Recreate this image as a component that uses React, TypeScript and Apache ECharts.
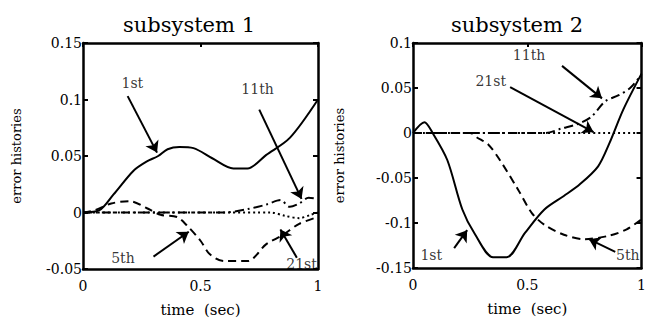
import React, { useEffect, useRef } from "react";
import * as echarts from "echarts";

const FONT = "DejaVu Serif";

// subsystem 1
const s1T1 = [0, 0.07, 0.13, 0.215, 0.27, 0.32, 0.36, 0.41, 0.47, 0.55, 0.64, 0.7, 0.78, 0.88, 1];
const s1V1 = [0, 0.002, 0.016, 0.037, 0.045, 0.05, 0.056, 0.058, 0.057, 0.048, 0.039, 0.039, 0.051, 0.066, 0.1];
const s1T5 = [0, 0.05, 0.12, 0.2, 0.27, 0.33, 0.4, 0.44, 0.5, 0.54, 0.6, 0.7, 0.78, 0.85, 0.92, 1];
const s1V5 = [0, 0.002, 0.008, 0.01, 0.004, -0.002, -0.004, -0.011, -0.025, -0.037, -0.043, -0.043, -0.028, -0.02, -0.01, -0.004];
const s1T11 = [0, 0.6, 0.7, 0.78, 0.84, 0.88, 0.92, 0.96, 1];
const s1V11 = [0, 0, 0.003, 0.007, 0.011, 0.005, 0.008, 0.013, 0.012];
const s1T21 = [0, 0.8, 0.86, 0.92, 0.97, 1];
const s1V21 = [0, 0, -0.003, -0.005, -0.002, 0];

// subsystem 2
const s2T1 = [0, 0.05, 0.086, 0.15, 0.216, 0.27, 0.35, 0.41, 0.49, 0.575, 0.66, 0.73, 0.81, 0.86, 0.92, 1];
const s2V1 = [0, 0.012, 0, -0.03, -0.085, -0.112, -0.138, -0.138, -0.111, -0.085, -0.07, -0.057, -0.037, -0.011, 0.026, 0.066];
const s2T5 = [0, 0.25, 0.28, 0.33, 0.38, 0.46, 0.52, 0.575, 0.66, 0.75, 0.86, 0.935, 1];
const s2V5 = [0, 0, -0.005, -0.013, -0.03, -0.063, -0.089, -0.102, -0.113, -0.118, -0.114, -0.107, -0.096];
const s2T11 = [0, 0.58, 0.65, 0.72, 0.78, 0.84, 0.9, 0.95, 1];
const s2V11 = [0, 0, 0.005, 0.01, 0.018, 0.035, 0.042, 0.05, 0.065];
const s2T21 = [0, 1];
const s2V21 = [0, 0];

// annotations
const s1Labels = ["1st", "11th", "5th", "21st"];
const s1LabelT = [0.21, 0.743, 0.17, 0.93];
const s1LabelV = [0.115, 0.109, -0.04, -0.046];
const s1ArrowFromT = [0.19, 0.75, 0.3, 0.91];
const s1ArrowFromV = [0.103, 0.091, -0.039, -0.04];
const s1ArrowToT = [0.315, 0.93, 0.45, 0.84];
const s1ArrowToV = [0.053, 0.012, -0.017, -0.015];

const s2Labels = ["11th", "21st", "1st", "5th"];
const s2LabelT = [0.508, 0.34, 0.08, 0.94];
const s2LabelV = [0.087, 0.058, -0.136, -0.136];
const s2ArrowFromT = [0.652, 0.425, 0.18, 0.885];
const s2ArrowFromV = [0.0746, 0.051, -0.128, -0.132];
const s2ArrowToT = [0.827, 0.79, 0.237, 0.77];
const s2ArrowToV = [0.0385, 0.001, -0.108, -0.118];

const zip = (a: number[], b: number[]) => a.map((x, i) => [x, b[i]]);

const DASHED = [8, 5];
const DASHDOT = [9, 4, 2, 4];
const DOTTED = [2, 3];

function curve(t: number[], v: number[], dash: any, idx: number) {
  return {
    type: "line",
    xAxisIndex: idx * 2,
    yAxisIndex: idx * 2,
    data: zip(t, v),
    showSymbol: false,
    smooth: 0.3,
    silent: true,
    lineStyle: { color: "#000", width: 2, type: dash },
  };
}

function annot(labels: string[], lt: number[], lv: number[], ft: number[], fv: number[], tt: number[], tv: number[], idx: number) {
  return {
    type: "scatter",
    xAxisIndex: idx * 2,
    yAxisIndex: idx * 2,
    symbolSize: 0,
    silent: true,
    z: 5,
    itemStyle: { color: "#000" },
    data: labels.map((s, i) => [lt[i], lv[i], s]),
    label: {
      show: true,
      position: "inside",
      formatter: (p: any) => p.data[2],
      fontFamily: FONT,
      fontSize: 14,
      color: "#000",
      textBorderWidth: 0,
      textBorderColor: "transparent",
    },
    markLine: {
      silent: true,
      symbol: ["none", "arrow"],
      symbolSize: 11,
      label: { show: false },
      itemStyle: { color: "#000" },
      lineStyle: { type: "solid", color: "#000", width: 2 },
      data: labels.map((_, i) => [
        { coord: [ft[i], fv[i]] },
        { coord: [tt[i], tv[i]] },
      ]),
    },
  };
}

const axisLabel = { fontFamily: FONT, fontSize: 14, color: "#000" };
const frameLine = { show: true, onZero: false, lineStyle: { color: "#000", width: 2.5 } };

function xAxes(idx: number) {
  return [
    {
      type: "value",
      gridIndex: idx,
      position: "bottom",
      min: 0,
      max: 1,
      interval: 0.5,
      axisLine: frameLine,
      axisTick: { show: false },
      splitLine: { show: false },
      axisLabel: { ...axisLabel, margin: 10 },
      name: "time  (sec)",
      nameLocation: "middle",
      nameGap: 33,
      nameTextStyle: { fontFamily: FONT, fontSize: 15, color: "#000" },
    },
    {
      type: "value",
      gridIndex: idx,
      position: "top",
      min: 0,
      max: 1,
      interval: 0.5,
      axisLine: frameLine,
      axisTick: { show: true, inside: true, length: 4, lineStyle: { color: "#000", width: 2 } },
      splitLine: { show: false },
      axisLabel: { show: false },
    },
  ];
}

function yAxes(idx: number, min: number, max: number, gap: number) {
  return [
    {
      type: "value",
      gridIndex: idx,
      position: "left",
      min,
      max,
      interval: 0.05,
      axisLine: frameLine,
      axisTick: { show: true, inside: true, length: 5, lineStyle: { color: "#000", width: 2 } },
      splitLine: { show: false },
      axisLabel: { ...axisLabel, margin: 1 },
      name: "error histories",
      nameLocation: "middle",
      nameGap: gap,
      nameTextStyle: { fontFamily: FONT, fontSize: 13, color: "#000" },
    },
    {
      type: "value",
      gridIndex: idx,
      position: "right",
      min,
      max,
      interval: 0.05,
      axisLine: frameLine,
      axisTick: { show: true, inside: true, length: 5, lineStyle: { color: "#000", width: 2 } },
      splitLine: { show: false },
      axisLabel: { show: false },
    },
  ];
}

export default function App() {
  const ref = useRef<HTMLDivElement>(null);
  useEffect(() => {
    if (!ref.current) return;
    const chart = echarts.init(ref.current, null, { renderer: "svg" });
    const option: any = {
      animation: false,
      backgroundColor: "#fff",
      title: [
        { text: "subsystem 1", left: 184, top: 9, textAlign: "center", textStyle: { fontFamily: FONT, fontSize: 21, fontWeight: "normal", color: "#000" } },
        { text: "subsystem 2", left: 512, top: 9, textAlign: "center", textStyle: { fontFamily: FONT, fontSize: 21, fontWeight: "normal", color: "#000" } },
      ],
      grid: [
        { left: 83, top: 43, width: 235, height: 226 },
        { left: 413, top: 43, width: 232, height: 225 },
      ],
      xAxis: [...xAxes(0), ...xAxes(1)],
      yAxis: [...yAxes(0, -0.05, 0.15, 60), ...yAxes(1, -0.15, 0.1, 67)],
      series: [
        curve(s1T1, s1V1, "solid", 0),
        curve(s1T5, s1V5, DASHED, 0),
        curve(s1T11, s1V11, DASHDOT, 0),
        curve(s1T21, s1V21, DOTTED, 0),
        curve(s2T1, s2V1, "solid", 1),
        curve(s2T5, s2V5, DASHED, 1),
        curve(s2T11, s2V11, DASHDOT, 1),
        curve(s2T21, s2V21, DOTTED, 1),
        annot(s1Labels, s1LabelT, s1LabelV, s1ArrowFromT, s1ArrowFromV, s1ArrowToT, s1ArrowToV, 0),
        annot(s2Labels, s2LabelT, s2LabelV, s2ArrowFromT, s2ArrowFromV, s2ArrowToT, s2ArrowToV, 1),
      ],
    };
    chart.setOption(option);
    return () => chart.dispose();
  }, []);
  return <div ref={ref} style={{ position: "absolute", left: 0, top: 0, width: 649, height: 324 }} />;
}
